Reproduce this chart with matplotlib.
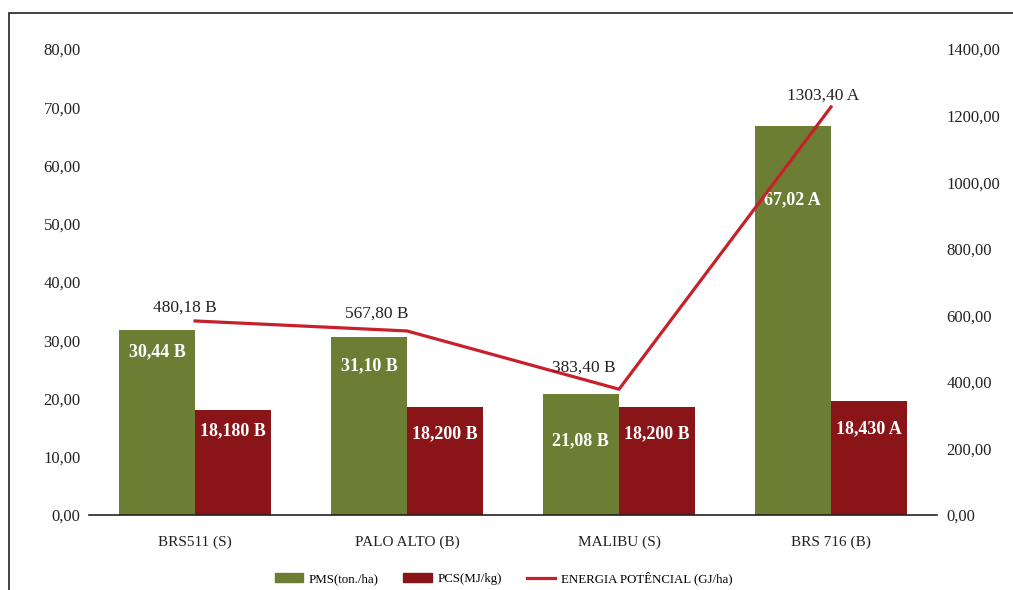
import numpy as np
import matplotlib
matplotlib.use("Agg")
import matplotlib.pyplot as plt
from matplotlib.patches import Rectangle
from matplotlib.lines import Line2D

plt.rcParams['font.family'] = ['Liberation Serif', 'DejaVu Serif']

# ------------------ DATA ------------------
categories = ["BRS511 (S)", "PALO ALTO (B)", "MALIBU (S)", "BRS 716 (B)"]
pms = [31.8, 30.6, 20.8, 66.8]          # bar heights as drawn
pcs = [18.0, 18.55, 18.55, 19.6]
energia = [583, 553, 378, 1226]         # line as drawn (right axis)
pms_labels = ["30,44 B", "31,10 B", "21,08 B", "67,02 A"]
pcs_labels = ["18,180 B", "18,200 B", "18,200 B", "18,430 A"]
energia_labels = ["480,18 B", "567,80 B", "383,40 B", "1303,40 A"]
left_ticks = np.arange(0, 81, 10)
right_ticks = np.arange(0, 1401, 200)

green = "#6C7E34"
darkred = "#891519"
linered = "#C8202A"
# -------------------------------------------

fig = plt.figure(figsize=(10.13, 5.90), dpi=100)
ax = fig.add_axes([0.0879, 0.127, 0.8371, 0.790])
ax2 = ax.twinx()

x = np.arange(len(categories))
w = 0.36
ax.bar(x - w / 2, pms, w, color=green, label="PMS(ton./ha)", zorder=2)
ax.bar(x + w / 2, pcs, w, color=darkred, label="PCS(MJ/kg)", zorder=2)

ax.set_xlim(-0.5, 3.5)
ax.set_ylim(0, 80)
ax.set_yticks(left_ticks)
ax.set_yticklabels([f"{v:.2f}".replace(".", ",") for v in left_ticks], fontsize=12)
ax.set_xticks(x)
ax.set_xticklabels(categories, fontsize=11)
ax.tick_params(length=0, colors="#222222")
ax.tick_params(axis="y", pad=6)
ax.tick_params(axis="x", pad=15)
for s in ["top", "right", "left"]:
    ax.spines[s].set_visible(False)
ax.spines["bottom"].set_color("#222222")
ax.spines["bottom"].set_linewidth(1.2)

ax2.plot(x, energia, color=linered, lw=2.3, label="ENERGIA POTÊNCIAL (GJ/ha)", zorder=3)
ax2.set_ylim(0, 1400)
ax2.set_yticks(right_ticks)
ax2.set_yticklabels([f"{v:.2f}".replace(".", ",") for v in right_ticks], fontsize=12)
ax2.tick_params(length=0, pad=7, colors="#222222")
for s in ["top", "right", "left", "bottom"]:
    ax2.spines[s].set_visible(False)

# bar labels (white, bold) - offsets in points below bar top
pms_off = [-16, -21, -34, -53]
for xi, v, lab, off in zip(x, pms, pms_labels, pms_off):
    ax.annotate(lab, (xi - w / 2, v), xytext=(0, off), textcoords="offset points",
                ha="center", va="center", color="white", fontweight="bold", fontsize=13, zorder=4)
pcs_off = [-15, -19, -19, -20]
for xi, v, lab, off in zip(x, pcs, pcs_labels, pcs_off):
    ax.annotate(lab, (xi + w / 2, v), xytext=(0, off), textcoords="offset points",
                ha="center", va="center", color="white", fontweight="bold", fontsize=13, zorder=4)

# line labels
en_off = [(-7, 4), (-22, 7), (-25, 10), (-6, 2)]
for xi, v, lab, off in zip(x, energia, energia_labels, en_off):
    ax2.annotate(lab, (xi, v), xytext=off, textcoords="offset points",
                 ha="center", va="bottom", color="#222222", fontsize=12.5)

handles = [Rectangle((0, 0), 1, 1, color=green), Rectangle((0, 0), 1, 1, color=darkred),
           Line2D([0], [0], color=linered, lw=2.3)]
fig.legend(handles, ["PMS(ton./ha)", "PCS(MJ/kg)", "ENERGIA POTÊNCIAL (GJ/ha)"],
           loc="center", bbox_to_anchor=(0.497, 0.02), ncol=3, frameon=False,
           fontsize=9.3, handlelength=2.2, handleheight=0.6, columnspacing=1.9,
           handletextpad=0.45)

# outer frame (partially visible)
frame = Rectangle((9 / 1013, -0.2), 1.2, 1 - 13 / 590 + 0.2, transform=fig.transFigure,
                  fill=False, edgecolor="#222222", lw=1.2)
fig.patches.append(frame)

fig.savefig("out.png", dpi=100)
